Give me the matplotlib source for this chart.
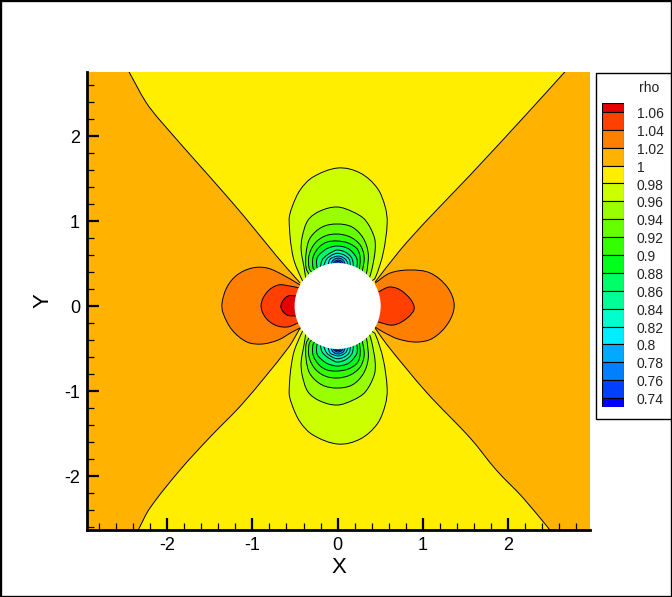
import numpy as np
import matplotlib
matplotlib.use("Agg")
import matplotlib.pyplot as plt
from matplotlib.patches import Circle, PathPatch, Rectangle
from matplotlib.path import Path

plt.rcParams["font.family"] = ["Liberation Sans", "DejaVu Sans"]
plt.rcParams["axes.unicode_minus"] = False

# legend levels, top to bottom
levels = [1.06, 1.04, 1.02, 1, 0.98, 0.96, 0.94, 0.92, 0.9, 0.88, 0.86, 0.84, 0.82, 0.8, 0.78, 0.76, 0.74]
level_labels = ["1.06", "1.04", "1.02", "1", "0.98", "0.96", "0.94", "0.92", "0.9", "0.88", "0.86", "0.84", "0.82", "0.8", "0.78", "0.76", "0.74"]
band_colors = ["#e60000", "#ff4000", "#ff8000", "#ffb300", "#ffee00", "#ccff00", "#99ff00", "#66ff00", "#33ff00",
               "#00ff1a", "#00ff66", "#00ff99", "#00ffcc", "#00eeff", "#00aaff", "#0080ff", "#0040ff", "#0000ff"]

# rho = 1 lines, outer edge to the cylinder
sep_tl_x = [-2.45, -2.25, -2.08, -1.50, -1.11, -0.71, -0.44]
sep_tl_y = [2.76, 2.40, 2.18, 1.52, 1.07, 0.58, 0.27]
sep_tr_x = [2.67, 2.26, 1.555, 1.05, 0.734, 0.44]
sep_tr_y = [2.76, 2.306, 1.541, 1.012, 0.659, 0.282]
sep_bl_x = [-2.342, -2.201, -1.849, -1.496, -1.109, -0.581, -0.44]
sep_bl_y = [-2.64, -2.376, -1.929, -1.541, -1.141, -0.494, -0.259]
sep_br_x = [2.494, 2.177, 1.86, 1.555, 1.05, 0.581, 0.44]
sep_br_y = [-2.64, -2.259, -1.929, -1.553, -1.024, -0.459, -0.259]

# high density lobes left and right of the cylinder
left_102_x = [-0.44, -0.64, -0.827, -1.004, -1.18, -1.297, -1.356, -1.344, -1.238, -1.062, -0.886, -0.698, -0.534, -0.417]
left_102_y = [0.247, 0.365, 0.447, 0.447, 0.365, 0.224, 0.035, -0.082, -0.282, -0.424, -0.447, -0.4, -0.306, -0.247]
left_104_x = [-0.452, -0.558, -0.698, -0.827, -0.898, -0.851, -0.734, -0.593, -0.464]
left_104_y = [0.212, 0.235, 0.247, 0.165, 0.012, -0.129, -0.224, -0.247, -0.2]
left_106_x = [-0.475, -0.581, -0.651, -0.663, -0.593, -0.475]
left_106_y = [0.118, 0.118, 0.047, -0.024, -0.106, -0.118]
right_102_x = [0.44, 0.616, 0.851, 1.086, 1.285, 1.367, 1.297, 1.121, 0.933, 0.71, 0.534, 0.44]
right_102_y = [0.271, 0.388, 0.424, 0.388, 0.224, 0.012, -0.2, -0.376, -0.424, -0.388, -0.306, -0.247]
right_104_x = [0.475, 0.616, 0.769, 0.898, 0.816, 0.651, 0.475]
right_104_y = [0.165, 0.224, 0.165, -0.012, -0.141, -0.224, -0.188]

# low density lobes, upper half; the lower half is the mirror image
low_lobes = {
    0.98: ([-0.39, -0.417, -0.522, -0.569, -0.534, -0.44, -0.288, 0.006, 0.264, 0.464, 0.558, 0.581, 0.534, 0.44, 0.39],
           [0.28, 0.306, 0.576, 1.012, 1.165, 1.365, 1.518, 1.624, 1.565, 1.388, 1.165, 0.976, 0.624, 0.329, 0.29]),
    0.96: ([-0.37, -0.393, -0.428, -0.416, -0.346, -0.205, -0.006, 0.182, 0.323, 0.429, 0.44, 0.4, 0.365],
           [0.30, 0.447, 0.659, 0.812, 1.012, 1.118, 1.165, 1.106, 1.012, 0.812, 0.659, 0.424, 0.31]),
    0.94: ([-0.33, -0.37, -0.37, -0.323, -0.182, -0.006, 0.17, 0.299, 0.358, 0.346, 0.33],
           [0.36, 0.447, 0.624, 0.8, 0.929, 0.965, 0.929, 0.8, 0.624, 0.424, 0.36]),
    0.92: ([-0.30, -0.335, -0.335, -0.264, -0.147, -0.006, 0.147, 0.264, 0.311, 0.288],
           [0.39, 0.447, 0.6, 0.741, 0.824, 0.847, 0.812, 0.718, 0.576, 0.4]),
    0.9: ([-0.26, -0.288, -0.288, -0.217, -0.123, -0.006, 0.123, 0.229, 0.264, 0.252],
          [0.42, 0.447, 0.576, 0.694, 0.753, 0.765, 0.741, 0.671, 0.565, 0.4]),
    0.88: ([-0.22, -0.241, -0.241, -0.182, -0.111, -0.006, 0.111, 0.182, 0.229, 0.217],
           [0.44, 0.447, 0.565, 0.635, 0.682, 0.706, 0.682, 0.624, 0.541, 0.4]),
    0.86: ([-0.205, -0.182, -0.123, -0.065, -0.006, 0.088, 0.158, 0.182, 0.182],
           [0.447, 0.541, 0.6, 0.635, 0.659, 0.635, 0.576, 0.506, 0.412]),
    0.84: ([-0.165, -0.13, -0.065, 0.0, 0.076, 0.135, 0.15],
           [0.47, 0.55, 0.6, 0.62, 0.6, 0.55, 0.47]),
    0.82: ([-0.111, -0.088, -0.041, 0.006, 0.053, 0.1, 0.123],
           [0.494, 0.553, 0.576, 0.588, 0.576, 0.541, 0.482]),
    0.8: ([-0.076, -0.053, 0.006, 0.065, 0.088],
          [0.5, 0.541, 0.565, 0.541, 0.494]),
    0.78: ([-0.053, -0.029, 0.006, 0.041, 0.065],
           [0.506, 0.529, 0.541, 0.529, 0.506]),
    0.76: ([-0.029, 0.006, 0.041],
           [0.512, 0.524, 0.512]),
}

cylinder_radius = 0.505
W, H = 672, 597
LINE_COLOR = "#000020"
LINE_W = 0.7


def curve(x, y):
    # bezier segments running through the read points, so the lines are round
    p = np.column_stack([x, y]).astype(float)
    d = np.gradient(p, axis=0)
    d = d / np.linalg.norm(d, axis=1, keepdims=True)
    verts = [p[0]]
    for i in range(len(p) - 1):
        seg = np.linalg.norm(p[i + 1] - p[i]) / 3
        verts += [p[i] + d[i] * seg, p[i + 1] - d[i + 1] * seg, p[i + 1]]
    return verts, [Path.MOVETO] + [Path.CURVE4] * (3 * (len(p) - 1))


def draw_lobe(ax, x, y, color):
    verts, codes = curve(x, y)
    closed = Path(verts + [verts[0]], codes + [Path.CLOSEPOLY])
    ax.add_patch(PathPatch(closed, fc=color, ec="none"))
    ax.add_patch(PathPatch(Path(verts, codes), fc="none", ec=LINE_COLOR, lw=LINE_W))


def draw_sector(ax, x_a, y_a, x_b, y_b, corners, color):
    va, ca = curve(x_a, y_a)
    vb, cb = curve(x_b[::-1], y_b[::-1])
    cb[0] = Path.LINETO
    verts = va + vb + corners + [va[0]]
    codes = ca + cb + [Path.LINETO] * len(corners) + [Path.CLOSEPOLY]
    ax.add_patch(PathPatch(Path(verts, codes), fc=color, ec="none"))
    for v, c in ((va, ca), curve(x_b, y_b)):
        ax.add_patch(PathPatch(Path(v, c), fc="none", ec=LINE_COLOR, lw=LINE_W))


fig = plt.figure(figsize=(W / 100, H / 100), dpi=100)
fig.add_artist(Rectangle((0, 0), 1, 1, transform=fig.transFigure, fc="white", ec="black", lw=2.4, zorder=-2))

ax = fig.add_axes([87 / W, (H - 530) / H, 503 / W, 458 / H])
ax.set_xlim(-2.94, 2.96)
ax.set_ylim(-2.635, 2.753)
ax.set_facecolor(band_colors[4])

x0, x1 = ax.get_xlim()
y0, y1 = ax.get_ylim()

# orange sectors either side of the rho = 1 lines
draw_sector(ax, sep_tl_x, sep_tl_y, sep_bl_x, sep_bl_y, [(x0 - 1, y0 - 1), (x0 - 1, y1 + 1)], band_colors[3])
draw_sector(ax, sep_tr_x, sep_tr_y, sep_br_x, sep_br_y, [(x1 + 1, y0 - 1), (x1 + 1, y1 + 1)], band_colors[3])

# high side: each lobe takes the band above its level
high_lobes = [
    (1.02, left_102_x, left_102_y), (1.04, left_104_x, left_104_y), (1.06, left_106_x, left_106_y),
    (1.02, right_102_x, right_102_y), (1.04, right_104_x, right_104_y),
]
for lev, lx, ly in high_lobes:
    draw_lobe(ax, lx, ly, band_colors[levels.index(lev)])

# low side: each lobe takes the band below its level
for lev, (lx, ly) in low_lobes.items():
    ly = np.array(ly)
    for sign in (1, -1):
        draw_lobe(ax, lx, sign * ly, band_colors[levels.index(lev) + 1])

ax.add_patch(Circle((0, 0), cylinder_radius, fc="white", ec="none", zorder=5))

for side in ("top", "right"):
    ax.spines[side].set_visible(False)
for side in ("left", "bottom"):
    ax.spines[side].set_linewidth(2)
    ax.spines[side].set_zorder(6)

ax.set_xticks([-2, -1, 0, 1, 2])
ax.set_yticks([-2, -1, 0, 1, 2])
ax.set_xticks(np.arange(-14, 15) * 0.2, minor=True)
ax.set_yticks(np.arange(-13, 14) * 0.2, minor=True)
ax.tick_params(which="major", direction="in", length=8.6, width=1.6, labelsize=13, pad=5)
ax.tick_params(which="minor", direction="in", length=5, width=0.9)
ax.set_xlabel("X", fontsize=16, labelpad=2)
ax.set_ylabel("Y", fontsize=16, labelpad=8)

# legend box and colour swatches
fig.add_artist(Rectangle((596 / W, (H - 419) / H), 75 / W, 346 / H, transform=fig.transFigure,
                         fc="white", ec="black", lw=1, zorder=-1))
lax = fig.add_axes([602 / W, (H - 407) / H, 22 / W, 304 / H])
edges = [1.07] + levels + [0.73]
lax.set_ylim(0.73, 1.07)
lax.set_xlim(0, 1)
for i, c in enumerate(band_colors):
    lax.bar(0.5, edges[i] - edges[i + 1], bottom=edges[i + 1], width=1, color=c, edgecolor="black", lw=0.8)
lax.axis("off")
for lev, lab in zip(levels, level_labels):
    lax.annotate(lab, (1, lev), xytext=(9, -1.5), textcoords="offset points", va="center", ha="left",
                 fontsize=10, color="#222222", annotation_clip=False)
fig.text(639 / W, (H - 88) / H, "rho", fontsize=10, color="#222222", va="center", ha="left")

fig.savefig("out.png", dpi=100)
